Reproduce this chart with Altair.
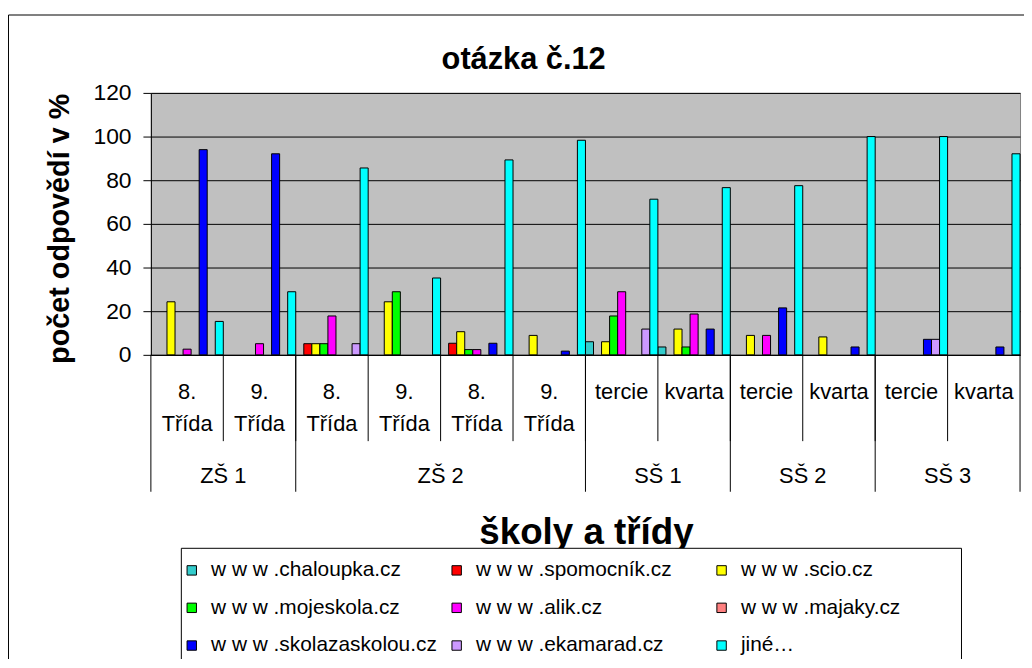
import altair as alt
import pandas as pd

FONT = "Liberation Sans"

title_text = "otázka č.12"
y_title = "počet odpovědí v %"
x_title = "školy a třídy"

groups = ["ZŠ 1", "ZŠ 2", "SŠ 1", "SŠ 2", "SŠ 3"]
group_sizes = [2, 4, 2, 2, 2]
class_line1 = ["8.", "9.", "8.", "9.", "8.", "9.",
               "tercie", "kvarta", "tercie", "kvarta", "tercie", "kvarta"]
class_line2 = ["Třída", "Třída", "Třída", "Třída", "Třída", "Třída",
               "", "", "", "", "", ""]

series = ["w w w .chaloupka.cz", "w w w .spomocník.cz", "w w w .scio.cz",
          "w w w .mojeskola.cz", "w w w .alik.cz", "w w w .majaky.cz",
          "w w w .skolazaskolou.cz", "w w w .ekamarad.cz", "jiné…"]
colors = ["#33CCCC", "#FF0000", "#FFFF00", "#00FF00", "#FF00FF",
          "#FF8080", "#0000FF", "#CC99FF", "#00FFFF"]

chaloupka = [0, 0, 0, 0, 0, 0, 6.0, 3.6, 0, 0, 0, 0]
spomocnik = [0, 0, 5.1, 0, 5.3, 0, 0, 0, 0, 0, 0, 0]
scio = [24.3, 0, 5.1, 24.3, 10.6, 8.9, 6.0, 11.8, 8.9, 8.2, 0, 0]
mojeskola = [0, 0, 5.1, 28.9, 2.4, 0, 17.8, 3.6, 0, 0, 0, 0]
alik = [2.6, 5.1, 17.8, 0, 2.4, 0, 28.9, 18.7, 8.9, 0, 0, 0]
majaky = [0, 0, 0, 0, 0, 0, 0, 0, 0, 0, 0, 0]
skolazaskolou = [94.0, 92.1, 0, 0, 5.3, 1.7, 0, 11.8, 21.5, 3.6, 7.1, 3.6]
ekamarad = [0, 0, 5.1, 0, 0, 0, 11.8, 0, 0, 0, 7.1, 0]
jine = [15.3, 28.9, 85.6, 35.2, 89.3, 98.3, 71.3, 76.6, 77.5, 100.0, 100.0, 92.1]

all_values = [chaloupka, spomocnik, scio, mojeskola, alik, majaky,
              skolazaskolou, ekamarad, jine]

n_cat = len(class_line1)
cat_ids = list(range(n_cat))

rows = []
for s, vals in zip(series, all_values):
    for cid, v in zip(cat_ids, vals):
        if v > 0:
            rows.append({"cid": cid, "series": s, "value": v})
bar_df = pd.DataFrame(rows)

cat_df = pd.DataFrame({"cid": cat_ids, "line1": class_line1, "line2": class_line2})
cat_df["center"] = cat_df["cid"] + 0.5

starts = [0]
for g in group_sizes:
    starts.append(starts[-1] + g)
grp_df = pd.DataFrame({"group": groups, "start": starts[:-1], "size": group_sizes})
grp_df["center"] = grp_df["start"] + grp_df["size"] / 2
inner_b = pd.DataFrame({"b": list(range(1, n_cat))})
group_b = pd.DataFrame({"b": starts})

W, H = 876, 264
xs = alt.Scale(domain=[0, n_cat], nice=False, zero=False)

bars = alt.Chart(bar_df).mark_bar(stroke="black", strokeWidth=1).encode(
    x=alt.X("cid:O", scale=alt.Scale(domain=cat_ids, paddingInner=0, paddingOuter=0),
            axis=alt.Axis(labels=False, ticks=False, domainColor="black", grid=False,
                          title=x_title, titleFont=FONT, titleFontSize=37,
                          titleFontWeight="bold", titleColor="black",
                          titleX=438.5, titleY=190, titleAlign="center",
                          titleBaseline="alphabetic")),
    xOffset=alt.XOffset("series:N", scale=alt.Scale(domain=series, paddingInner=0, paddingOuter=0)),
    y=alt.Y("value:Q", scale=alt.Scale(domain=[0, 120], nice=False),
            axis=alt.Axis(values=[0, 20, 40, 60, 80, 100, 120], title=y_title,
                          titleFont=FONT, titleFontSize=29, titleFontWeight="bold",
                          titleColor="black", titleAngle=270, titleX=-92, titleY=136.5,
                          titleAlign="center", titleBaseline="middle",
                          labelFont=FONT, labelFontSize=23, labelColor="black",
                          labelPadding=12, tickSize=8, tickColor="black",
                          domainColor="black", grid=True, gridColor="black", gridWidth=1)),
    color=alt.Color("series:N", scale=alt.Scale(domain=series, range=colors),
                    legend=alt.Legend(title=None, orient="none", legendX=30.7, legendY=470.5,
                                      columns=3, direction="horizontal", gridAlign="all",
                                      symbolType="square",
                                      symbolSize=90, symbolStrokeColor="black",
                                      symbolStrokeWidth=1, symbolOpacity=1,
                                      labelFont=FONT, labelFontSize=21, labelColor="black",
                                      labelOffset=9, labelLimit=400, rowPadding=16,
                                      columnPadding=9, padding=0)),
)

inner_rules = alt.Chart(inner_b).mark_rule(color="black", strokeWidth=1).encode(
    x=alt.X("b:Q", scale=xs, axis=None), y=alt.value(H), y2=alt.value(351))
group_rules = alt.Chart(group_b).mark_rule(color="black", strokeWidth=1).encode(
    x=alt.X("b:Q", scale=xs, axis=None), y=alt.value(H), y2=alt.value(402))

lab1 = alt.Chart(cat_df).mark_text(font=FONT, fontSize=22, color="black",
                                   align="center", baseline="alphabetic").encode(
    x=alt.X("center:Q", scale=xs, axis=None), y=alt.value(308.3), text="line1:N")
lab2 = alt.Chart(cat_df).mark_text(font=FONT, fontSize=22, color="black",
                                   align="center", baseline="alphabetic").encode(
    x=alt.X("center:Q", scale=xs, axis=None), y=alt.value(340.7), text="line2:N")
glab = alt.Chart(grp_df).mark_text(font=FONT, fontSize=22, color="black",
                                   align="center", baseline="alphabetic").encode(
    x=alt.X("center:Q", scale=xs, axis=None), y=alt.value(393), text="group:N")

one = pd.DataFrame({"t": [title_text]})
title = alt.Chart(one).mark_text(font=FONT, fontSize=31, fontWeight="bold", color="black",
                                 align="center", baseline="alphabetic").encode(
    x=alt.value(375.7), y=alt.value(-24.3), text="t:N")

frame_top = alt.Chart(one).mark_rule(color="black", strokeWidth=1).encode(
    x=alt.value(-143.5), x2=alt.value(900), y=alt.value(-78.5))
frame_left = alt.Chart(one).mark_rule(color="black", strokeWidth=1).encode(
    x=alt.value(-143.5), y=alt.value(-78.5), y2=alt.value(600))
legend_box = alt.Chart(one).mark_rect(fill="white", stroke="black", strokeWidth=1).encode(
    x=alt.value(30.7), x2=alt.value(817), y=alt.value(459), y2=alt.value(575.7))

chart = alt.layer(
    frame_top, frame_left, legend_box, bars, inner_rules, group_rules, lab1, lab2, glab, title
).resolve_scale(x="independent").properties(
    width=W, height=H,
    padding={"left": 144, "top": 83, "right": 4, "bottom": 304},
    autosize=alt.AutoSizeParams(type="none"),
    background="white",
).configure_view(fill="#C0C0C0", stroke="#808080", strokeWidth=1)

chart.save("out.html", embed_options={"renderer": "svg", "actions": False})
